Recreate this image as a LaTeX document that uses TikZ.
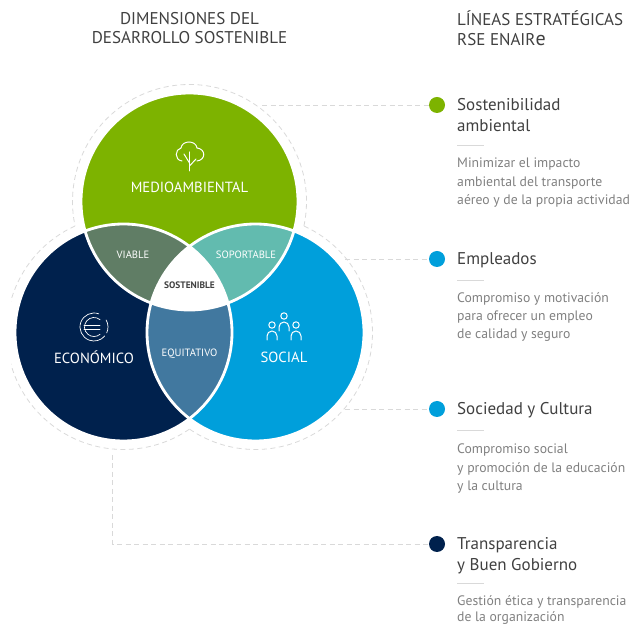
\documentclass[tikz,border=0pt]{standalone}
\usepackage{fontspec}
\setmainfont{PT Sans}
\definecolor{verde}{HTML}{7DB300}
\definecolor{marino}{HTML}{00214D}
\definecolor{azul}{HTML}{009FDB}
\definecolor{viable}{HTML}{607D65}
\definecolor{soportable}{HTML}{62BBAF}
\definecolor{equitativo}{HTML}{41789F}
\definecolor{titulo}{HTML}{404040}
\definecolor{texto}{HTML}{808080}
\definecolor{guion}{HTML}{D9D9D9}
\tikzset{
  every picture/.style={x=1pt,y=1pt},
  guide/.style={guion,line width=0.8pt,dash pattern=on 5pt off 3.5pt},
  heading/.style={text=titulo,font=\fontsize{17}{19.5}\selectfont,align=center,inner sep=0pt},
  ring/.style={white,line width=2.8pt},
  region/.style={text=white,font=\fontsize{14.7}{17}\selectfont,inner sep=0pt},
  lens/.style={text=white,font=\fontsize{10.6}{12}\selectfont,inner sep=0pt},
  dot/.style={circle,inner sep=0pt,minimum size=16pt},
  linetitle/.style={text=titulo,font=\fontsize{17}{21}\selectfont,align=left,inner sep=0pt,anchor=north west},
  linetext/.style={text=texto,font=\fontsize{13.7}{18.4}\selectfont,align=left,inner sep=0pt,anchor=north west},
  icon/.style={white,line width=1pt,line cap=round}
}
\begin{document}
\begin{tikzpicture}
  \useasboundingbox (0,0) rectangle (639,626);
  \coordinate (med) at (189.5,424.5);
  \coordinate (eco) at (123.5,293.5);
  \coordinate (soc) at (255.5,293.5);
  \coordinate (euro) at (94,299);

  \draw[guide] ([shift={(-12.1:117)}]med) arc[start angle=-12.1,end angle=192.1,radius=117];
  \begin{scope}
    \clip (11,0) rectangle (639,626);
    \draw[guide] ([shift={(114.5:117)}]eco) arc[start angle=114.5,end angle=304.3,radius=117];
  \end{scope}
  \draw[guide] ([shift={(235.7:117)}]soc) arc[start angle=235.7,end angle=425.5,radius=117];

  \fill[verde] (med) circle (108.5);
  \fill[marino] (eco) circle (108.5);
  \fill[azul] (soc) circle (108.5);
  \begin{scope}
    \clip (med) circle (108.5);
    \fill[viable] (eco) circle (108.5);
    \fill[soportable] (soc) circle (108.5);
  \end{scope}
  \begin{scope}
    \clip (eco) circle (108.5);
    \fill[equitativo] (soc) circle (108.5);
    \clip (soc) circle (108.5);
    \fill[white] (med) circle (108.5);
  \end{scope}
  \foreach \c in {med,eco,soc} {
    \draw[ring] (\c) circle (108.5);
  }

  \node[region] (medlabel) at (189.5,439) {MEDIOAMBIENTAL};
  \node[region] (ecolabel) at (94,269) {ECONÓMICO};
  \node[region] (soclabel) at (284,269) {SOCIAL};
  \node[lens] (vialabel) at (133,371) {VIABLE};
  \node[lens] (soplabel) at (246,371) {SOPORTABLE};
  \node[lens,text=titulo,font=\fontsize{9.4}{12}\selectfont\bfseries] (soslabel) at (189.5,341) {SOSTENIBLE};
  \node[lens] (equlabel) at (189.5,272) {EQUITATIVO};

  \draw[icon] (189.5,455) -- (189.5,474);
  \draw[icon] (189.5,463) -- (184,472);
  \draw[icon] (189.5,460) -- (196,467);
  \draw[icon] (182,465) .. controls (174,466) and (175,477) .. (181,478)
    .. controls (182,486) and (196,486) .. (197,478)
    .. controls (206,477) and (206,466) .. (197,465);
  \draw[icon,line width=0.7pt] ([shift={(70:14)}]euro) arc[start angle=70,end angle=320,radius=14];
  \draw[icon,line width=0.7pt] ([shift={(-25:14)}]euro) arc[start angle=-25,end angle=30,radius=14];
  \draw[icon,line width=0.7pt] ([shift={(50:9.5)}]euro) arc[start angle=50,end angle=310,radius=9.5];
  \draw[icon,line width=0.7pt] (84,301) -- (100,301) (84,297) -- (100,297);
  \foreach \px/\py in {272/301,284/310,296/301} {
    \draw[icon] (\px,\py) circle (3.2);
    \draw[icon] (\px-5,\py-15) -- (\px-5,\py-11) arc[start angle=180,end angle=0,radius=5] -- (\px+5,\py-15);
  }

  \foreach \n/\c/\y in {sos/verde/521,emp/azul/367,cul/azul/217,tra/marino/82} {
    \node[dot,fill=\c] (dot\n) at (437,\y) {};
  }
  \coordinate (sosend) at (262,521);
  \coordinate (empend) at (345,367);
  \coordinate (culend) at (345,217);
  \coordinate (traend) at (112.5,171);
  \coordinate (tracorner) at (112.5,82);
  \draw[guide] (sosend) -- (dotsos);
  \draw[guide] (empend) -- (dotemp);
  \draw[guide] (culend) -- (dotcul);
  \draw[guide] (traend) -- (tracorner) -- (dottra);

  \node[heading] (headdim) at (189.5,598) {DIMENSIONES DEL\\DESARROLLO SOSTENIBLE};
  \node[heading,align=left,anchor=west] (headlin) at (457,598) {LÍNEAS ESTRATÉGICAS\\RSE ENAIR{\fontsize{20}{19.5}\selectfont e}};

  \node[linetitle] (titsos) at (457,528) {Sostenibilidad\\ambiental};
  \node[linetext] (txtsos) at (457,468) {Minimizar el impacto\\ambiental del transporte\\aéreo y de la propia actividad};
  \node[linetitle] (titemp) at (457,374) {Empleados};
  \node[linetext] (txtemp) at (457,334) {Compromiso y motivación\\para ofrecer un empleo\\de calidad y seguro};
  \node[linetitle] (titcul) at (457,224) {Sociedad y Cultura};
  \node[linetext] (txtcul) at (457,182) {Compromiso social\\y promoción de la educación\\y la cultura};
  \node[linetitle] (tittra) at (457,89) {Transparencia\\y Buen Gobierno};
  \node[linetext] (txttra) at (457,31) {Gestión ética y transparencia\\[-1.5pt]de la organización};

  \foreach \y in {481,346,196,43} {
    \draw[guion,line width=0.7pt] (457,\y) -- (484,\y);
  }
\end{tikzpicture}
\end{document}
